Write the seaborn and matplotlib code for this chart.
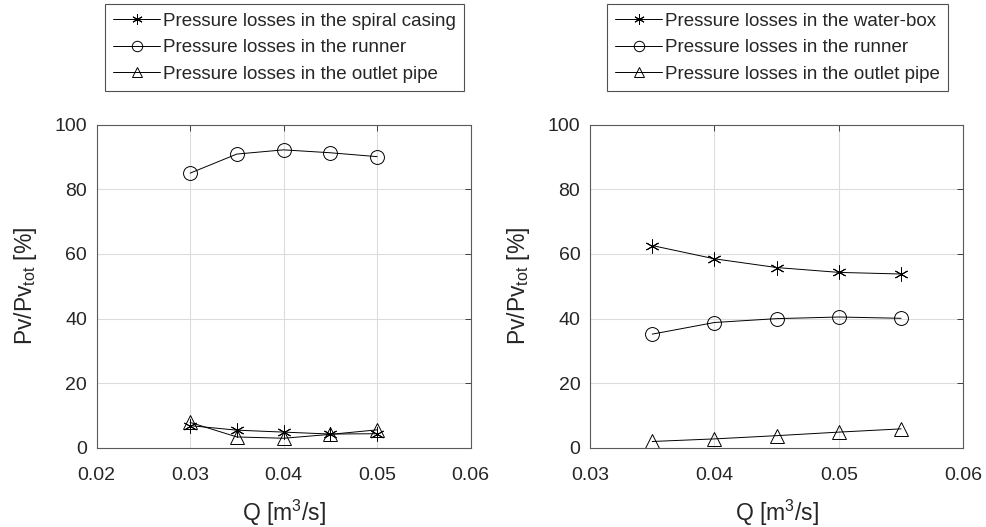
import matplotlib
matplotlib.use("Agg")
import matplotlib.pyplot as plt
import seaborn as sns
import pandas as pd

# Left: spiral casing turbine
q_left = [0.030, 0.035, 0.040, 0.045, 0.050]
spiral = [6.9, 5.5, 4.9, 4.3, 4.4]
runner_left = [85.0, 90.9, 92.2, 91.3, 90.1]
outlet_left = [7.9, 3.4, 3.0, 4.2, 5.6]

# Right: water-box turbine
q_right = [0.035, 0.040, 0.045, 0.050, 0.055]
waterbox = [62.6, 58.5, 55.8, 54.3, 53.8]
runner_right = [35.2, 38.8, 40.0, 40.5, 40.1]
outlet_right = [2.0, 2.8, 3.8, 4.9, 5.9]

labels_left = ["Pressure losses in the spiral casing",
               "Pressure losses in the runner",
               "Pressure losses in the outlet pipe"]
labels_right = ["Pressure losses in the water-box",
                "Pressure losses in the runner",
                "Pressure losses in the outlet pipe"]

sns.set_style("white")
plt.rcParams['font.family'] = ['Liberation Sans', 'DejaVu Sans']
plt.rcParams['mathtext.default'] = 'regular'

fig = plt.figure(figsize=(9.86, 5.27), dpi=100)
ax1 = fig.add_axes([0.098, 0.150, 0.3793, 0.6135])
ax2 = fig.add_axes([0.5984, 0.150, 0.3786, 0.6135])

markers = [(6, 2, 0), 'o', '^']
sizes = [10, 10, 10]
grey = '#262626'


def draw(ax, q, series, labels, xlim, xticks):
    for vals, lab, m, s in zip(series, labels, markers, sizes):
        df = pd.DataFrame({'Q': q, 'P': vals})
        sns.lineplot(data=df, x='Q', y='P', ax=ax, color='black', lw=0.7,
                     marker=m, markersize=s, markerfacecolor='none',
                     markeredgecolor='black', markeredgewidth=0.7, label=lab)
    ax.set_xlim(*xlim)
    ax.set_ylim(0, 100)
    ax.set_xticks(xticks)
    ax.set_xticklabels([f"{t:.2f}" for t in xticks])
    ax.set_yticks([0, 20, 40, 60, 80, 100])
    ax.grid(True, color='#dcdcdc', lw=0.8)
    ax.tick_params(direction='in', length=4, width=0.6, colors=grey,
                   labelsize=14, top=True, right=True, labelcolor=grey)
    ax.tick_params(axis='x', pad=14)
    ax.tick_params(axis='y', pad=7)
    for sp in ax.spines.values():
        sp.set_color('#5a5a5a')
        sp.set_linewidth(0.8)
    ax.set_xlabel('Q [m$^3$/s]', fontsize=16.5, color=grey, labelpad=10)
    ax.set_ylabel('Pv/Pv$_{tot}$ [%]', fontsize=16.5, color=grey, labelpad=11)
    ax.get_legend().remove()


draw(ax1, q_left, [spiral, runner_left, outlet_left], labels_left,
     (0.02, 0.06), [0.02, 0.03, 0.04, 0.05, 0.06])
draw(ax2, q_right, [waterbox, runner_right, outlet_right], labels_right,
     (0.03, 0.06), [0.03, 0.04, 0.05, 0.06])

for ax, cx in [(ax1, 284.5 / 986), (ax2, 777.5 / 986)]:
    h, l = ax.get_legend_handles_labels()
    leg = fig.legend(h, l, loc='upper center', bbox_to_anchor=(cx, 1 - 4 / 527),
                     fontsize=13.5, frameon=True, fancybox=False, numpoints=1,
                     markerscale=0.75, handlelength=2.5, handletextpad=0.15,
                     labelspacing=0.5, borderpad=0.45, borderaxespad=0)
    leg.get_frame().set_edgecolor('#262626')
    leg.get_frame().set_linewidth(0.8)

fig.savefig('out.png', dpi=100)
